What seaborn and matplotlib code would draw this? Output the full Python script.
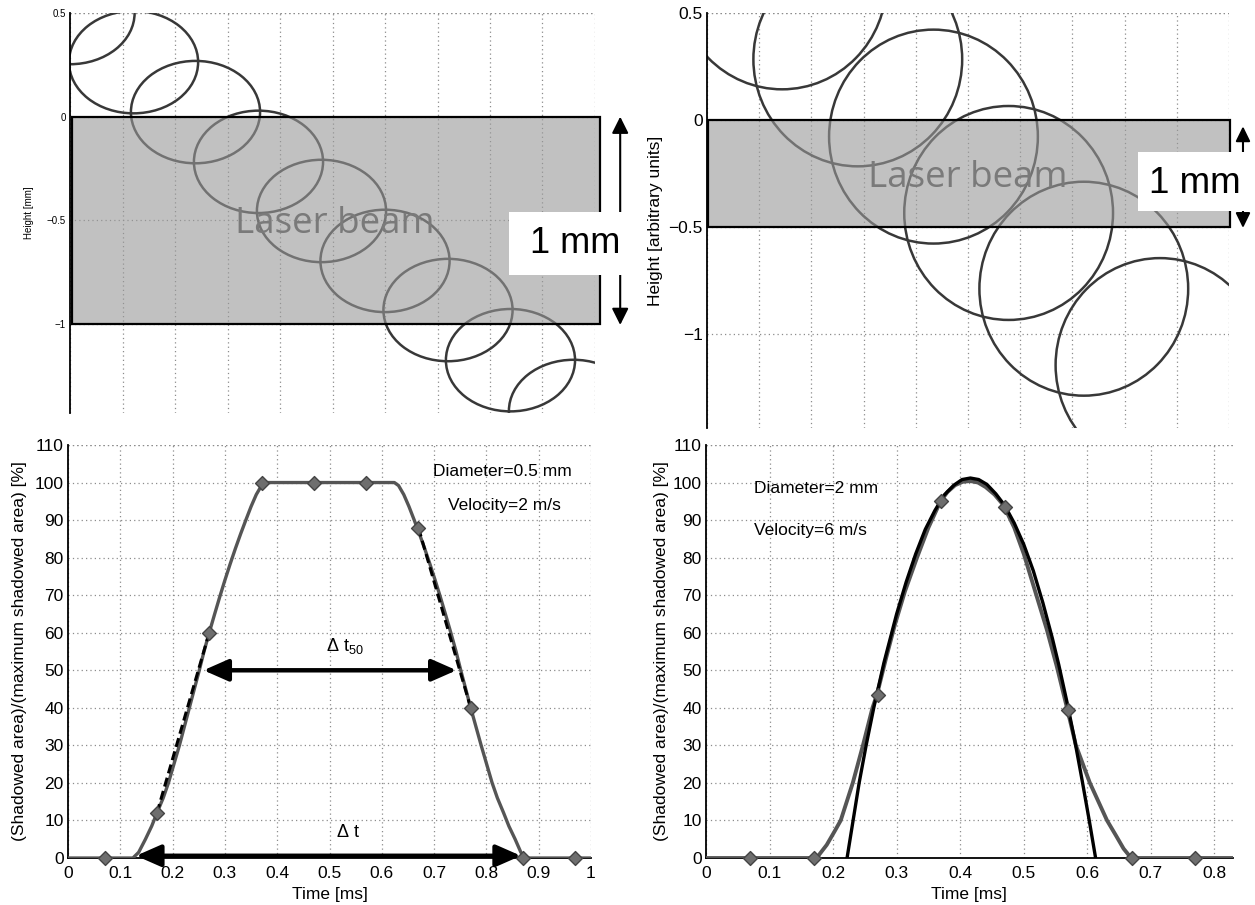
import numpy as np
import pandas as pd
import matplotlib
matplotlib.use("Agg")
import matplotlib.pyplot as plt
import seaborn as sns
from matplotlib.patches import Ellipse, Rectangle

# ---------------- data ----------------
# top-left: circle centres (time-like x, height [mm]); radii
tl_cx = [0.0, 0.121, 0.239, 0.359, 0.479, 0.600, 0.720, 0.839, 0.959]
tl_cy = [0.50, 0.263, 0.022, -0.218, -0.455, -0.696, -0.933, -1.175, -1.42]
tl_rx, tl_ry = 0.123, 0.247

# top-right: circle centres (arbitrary units); radii
tr_cx = [0.144, 0.289, 0.434, 0.578, 0.722, 0.868]
tr_cy = [0.643, 0.283, -0.078, -0.435, -0.789, -1.146]
tr_rx, tr_ry = 0.200, 0.500

# bottom-left: shadowed area curve (0.5 mm, 2 m/s)
bl_t = [0.0, 0.07, 0.124, 0.135, 0.148, 0.160, 0.170, 0.182, 0.192, 0.213, 0.232,
        0.251, 0.260, 0.270, 0.280, 0.290, 0.300, 0.310, 0.320, 0.330, 0.340,
        0.350, 0.360, 0.370, 0.378,
        0.47, 0.57, 0.624, 0.632, 0.642, 0.652, 0.662, 0.672, 0.682, 0.692,
        0.702, 0.712, 0.722, 0.732, 0.742, 0.751, 0.770, 0.790, 0.811, 0.821,
        0.833, 0.843, 0.855, 0.866, 0.876, 0.97, 1.0]
bl_y = [0, 0, 0, 1.5, 5, 8.5, 12, 16, 20, 30, 40,
        50, 55, 60, 64.8, 69.5, 74, 78.3, 82.4, 86.3, 90,
        93.6, 96.8, 99.2, 100,
        100, 100, 100, 99.2, 96.8, 93.6, 90, 86.3, 82.4, 78.3,
        74, 69.5, 64.8, 60, 55, 50, 40, 30, 20, 16,
        12, 8.5, 5, 1.5, 0, 0, 0]
bl_mark_t = [0.07, 0.17, 0.27, 0.37, 0.47, 0.57, 0.67, 0.77, 0.87, 0.97]
bl_mark_y = [0, 12, 60, 100, 100, 100, 88, 40, 0, 0]
bl_fit_left_t, bl_fit_left_y = [0.17, 0.27], [12, 60]
bl_fit_right_t, bl_fit_right_y = [0.67, 0.77], [88, 40]

# bottom-right: shadowed area curve (2 mm, 6 m/s) and its fit
br_t = [0.0, 0.174, 0.190, 0.202, 0.212, 0.231, 0.247, 0.262, 0.269, 0.283, 0.297,
        0.313, 0.332, 0.350, 0.369, 0.380, 0.392, 0.404, 0.416, 0.428, 0.440,
        0.454, 0.468, 0.485, 0.500, 0.518, 0.536, 0.552, 0.568, 0.582, 0.604,
        0.631, 0.645, 0.657, 0.669, 0.83]
br_y = [0, 0, 3.5, 7, 10, 20, 30, 40, 43.5, 53, 62,
        71, 80, 88, 95, 97.5, 99.3, 100.2, 100.4, 100, 98.8,
        96.8, 94, 88, 81, 71, 61, 51, 40, 30, 20,
        10, 6, 2.5, 0, 0]
br_fit_t = [0.222, 0.241, 0.252, 0.264, 0.280, 0.300, 0.315, 0.330, 0.345, 0.360,
            0.375, 0.390, 0.403, 0.416, 0.429, 0.442, 0.456, 0.470, 0.485, 0.500,
            0.515, 0.530, 0.545, 0.555, 0.568, 0.580, 0.592, 0.603, 0.613]
br_fit_y = [0, 20, 30, 40, 52, 65, 73.5, 81, 87.5, 92.5,
            96.7, 99.3, 100.8, 101.2, 100.8, 99.5, 97, 93.9, 89.2, 83.5,
            76.5, 68, 58.5, 51.5, 41.5, 31.5, 20.5, 10, 0]
br_mark_t = [0.07, 0.17, 0.27, 0.37, 0.47, 0.57, 0.67, 0.77]
br_mark_y = [0, 0, 43.5, 95, 93.5, 39.5, 0, 0]

tick_x_bl = [0, 0.1, 0.2, 0.3, 0.4, 0.5, 0.6, 0.7, 0.8, 0.9, 1]
tick_x_br = [0, 0.1, 0.2, 0.3, 0.4, 0.5, 0.6, 0.7, 0.8]
tick_y_bot = list(range(0, 111, 10))
tick_y_top = [-1, -0.5, 0, 0.5]

# ---------------- style ----------------
sns.set_theme(style="white")
plt.rcParams["font.family"] = ["Liberation Sans", "DejaVu Sans"]
plt.rcParams["axes.unicode_minus"] = True
plt.rcParams["mathtext.fontset"] = "custom"
plt.rcParams["mathtext.rm"] = "Liberation Sans"
plt.rcParams["mathtext.it"] = "Liberation Sans"
for key in ["text.color", "axes.labelcolor", "xtick.color", "ytick.color",
            "xtick.labelcolor", "ytick.labelcolor"]:
    plt.rcParams[key] = "black"

GRID = dict(color="#8c8c8c", lw=0.9, ls=(0, (1, 2.5)))
CURVE = "#555555"

fig = plt.figure(figsize=(12.55, 9.05), dpi=100)
ax_tl = fig.add_axes([0.0558, 0.5436, 0.4183, 0.4420])
ax_tr = fig.add_axes([0.5633, 0.5271, 0.4159, 0.4586])
ax_bl = fig.add_axes([0.0542, 0.0519, 0.4167, 0.4564])
ax_br = fig.add_axes([0.5625, 0.0519, 0.4199, 0.4564])


def style_axes(ax, xticks, yticks, xlim, ylim, fs, show_bottom=True):
    ax.set_xlim(*xlim)
    ax.set_ylim(*ylim)
    ax.set_xticks(xticks)
    ax.set_yticks(yticks)
    for s in ["top", "right"]:
        ax.spines[s].set_visible(False)
    ax.spines["left"].set_color("black")
    ax.spines["left"].set_linewidth(1.3)
    ax.spines["bottom"].set_visible(show_bottom)
    ax.spines["bottom"].set_color("black")
    ax.spines["bottom"].set_linewidth(1.3)
    ax.tick_params(axis="both", direction="in", length=4, width=1, color="black",
                   labelcolor="black", labelsize=fs)
    ax.tick_params(axis="y", pad=3)
    ax.tick_params(axis="x", pad=6)
    if not show_bottom:
        ax.tick_params(axis="x", length=0, labelbottom=False)
    for x in xticks:
        ax.axvline(x, zorder=0.5, **GRID)
    for y in yticks:
        ax.axhline(y, zorder=0.5, **GRID)
    ax.axhline(ylim[1], zorder=0.5, **GRID)
    ax.set_facecolor("white")


# ---------------- top-left ----------------
style_axes(ax_tl, [i / 10 for i in range(11)], tick_y_top, (0, 1), (-1.43, 0.5), 7,
           show_bottom=False)
ax_tl.set_yticklabels(["\u22121", "\u22120.5", "0", "0.5"])
ax_tl.set_ylabel("Height [mm]", fontsize=7, labelpad=9, color="black")
for cx, cy in zip(tl_cx, tl_cy):
    ax_tl.add_patch(Ellipse((cx, cy), 2 * tl_rx, 2 * tl_ry, fill=False,
                            ec="#383838", lw=1.8, zorder=2))
ax_tl.add_patch(Rectangle((0.004, -1.0), 1.006, 1.0, fc=(0.60, 0.60, 0.60, 0.60),
                          ec="black", lw=1.6, zorder=3, clip_on=False))
ax_tl.text(0.505, -0.52, "Laser beam", fontsize=26.5, color="#7a7a7a",
           family=["Open Sans", "DejaVu Sans"], ha="center", va="center", zorder=4)
ax_tl.annotate("", xy=(1.048, -1.005), xytext=(1.048, 0.0), xycoords="data",
               arrowprops=dict(arrowstyle="<|-|>,head_length=0.5,head_width=0.25",
                               mutation_scale=20, lw=1.5, color="black",
                               shrinkA=0, shrinkB=0),
               annotation_clip=False, zorder=5)
ax_tl.add_patch(Rectangle((0.836, -0.763), 0.24, 0.304, fc="white", ec="none",
                          zorder=6, clip_on=False))
ax_tl.text(0.962, -0.613, "1 mm", fontsize=26, color="black", ha="center",
           va="center", zorder=7, clip_on=False)

# ---------------- top-right ----------------
style_axes(ax_tr, [i / 10 for i in range(11)], tick_y_top, (0, 1), (-1.44, 0.5), 12.5,
           show_bottom=False)
ax_tr.set_yticklabels(["\u22121", "\u22120.5", "0", "0.5"])
ax_tr.set_ylabel("Height [arbitrary units]", fontsize=12.5, labelpad=4, color="black")
for cx, cy in zip(tr_cx, tr_cy):
    ax_tr.add_patch(Ellipse((cx, cy), 2 * tr_rx, 2 * tr_ry, fill=False,
                            ec="#383838", lw=1.8, zorder=2))
ax_tr.add_patch(Rectangle((0.002, -0.5), 1.0, 0.5, fc=(0.60, 0.60, 0.60, 0.60),
                          ec="black", lw=1.6, zorder=3, clip_on=False))
ax_tr.text(0.5, -0.27, "Laser beam", fontsize=26.5, color="#7a7a7a",
           family=["Open Sans", "DejaVu Sans"], ha="center", va="center", zorder=4)
ax_tr.annotate("", xy=(1.027, -0.505), xytext=(1.027, -0.03), xycoords="data",
               arrowprops=dict(arrowstyle="<|-|>,head_length=0.45,head_width=0.22",
                               mutation_scale=20, lw=1.5, color="black",
                               shrinkA=0, shrinkB=0),
               annotation_clip=False, zorder=5)
ax_tr.add_patch(Rectangle((0.826, -0.427), 0.3, 0.277, fc="white", ec="none",
                          zorder=6, clip_on=False))
ax_tr.text(0.935, -0.298, "1 mm", fontsize=26.5, color="black", ha="center",
           va="center", zorder=7, clip_on=False)

# ---------------- bottom-left ----------------
style_axes(ax_bl, tick_x_bl, tick_y_bot, (0, 1), (0, 110), 12.5)
ax_bl.set_xticklabels(["0", "0.1", "0.2", "0.3", "0.4", "0.5", "0.6", "0.7", "0.8", "0.9", "1"])
df_bl = pd.DataFrame({"t": bl_t, "y": bl_y})
sns.lineplot(data=df_bl, x="t", y="y", ax=ax_bl, color=CURVE, lw=2.4,
             estimator=None, sort=False, zorder=3)
sns.lineplot(x=bl_fit_left_t, y=bl_fit_left_y, ax=ax_bl, color="black", lw=2.2,
             ls=(0, (3, 1.5)), estimator=None, sort=False, zorder=4)
sns.lineplot(x=bl_fit_right_t, y=bl_fit_right_y, ax=ax_bl, color="black", lw=2.2,
             ls=(0, (3, 1.5)), estimator=None, sort=False, zorder=4)
sns.scatterplot(x=bl_mark_t, y=bl_mark_y, ax=ax_bl, marker="D", s=50,
                color="#6e6e6e", edgecolor="#444444", linewidth=1, zorder=5,
                clip_on=False)
arrow_big = dict(arrowstyle="<|-|>,head_length=0.75,head_width=0.33",
                 mutation_scale=20, lw=3.2, color="black", shrinkA=0, shrinkB=0)
ax_bl.annotate("", xy=(0.743, 50), xytext=(0.259, 50), arrowprops=arrow_big, zorder=6)
ax_bl.annotate("", xy=(0.866, 0.6), xytext=(0.13, 0.6), arrowprops=arrow_big,
               zorder=6, annotation_clip=False)
ax_bl.text(0.53, 56.5, r"$\Delta$ t$_{50}$", fontsize=13, ha="center", va="center")
ax_bl.text(0.535, 6.8, r"$\Delta$ t", fontsize=13, ha="center", va="center")
ax_bl.text(0.83, 103, "Diameter=0.5 mm", fontsize=12.5, ha="center", va="center")
ax_bl.text(0.835, 94, "Velocity=2 m/s", fontsize=12.5, ha="center", va="center")
ax_bl.set_xlabel("Time [ms]", fontsize=12.5, labelpad=4, color="black")
ax_bl.set_ylabel("(Shadowed area)/(maximum shadowed area) [%]", fontsize=12.5,
                 labelpad=6, color="black")

# ---------------- bottom-right ----------------
style_axes(ax_br, tick_x_br, tick_y_bot, (0, 0.829), (0, 110), 12.5)
ax_br.set_xticklabels(["0", "0.1", "0.2", "0.3", "0.4", "0.5", "0.6", "0.7", "0.8"])
df_br = pd.DataFrame({"t": br_t, "y": br_y})
sns.lineplot(data=df_br, x="t", y="y", ax=ax_br, color=CURVE, lw=2.8,
             estimator=None, sort=False, zorder=3)
df_fit = pd.DataFrame({"t": br_fit_t, "y": br_fit_y})
sns.lineplot(data=df_fit, x="t", y="y", ax=ax_br, color="black", lw=2.4,
             estimator=None, sort=False, zorder=4)
sns.scatterplot(x=br_mark_t, y=br_mark_y, ax=ax_br, marker="D", s=50,
                color="#6e6e6e", edgecolor="#444444", linewidth=1, zorder=5,
                clip_on=False)
ax_br.text(0.075, 98.4, "Diameter=2 mm", fontsize=12.5, ha="left", va="center")
ax_br.text(0.075, 87.2, "Velocity=6 m/s", fontsize=12.5, ha="left", va="center")
ax_br.set_xlabel("Time [ms]", fontsize=12.5, labelpad=4, color="black")
ax_br.set_ylabel("(Shadowed area)/(maximum shadowed area) [%]", fontsize=12.5,
                 labelpad=3, color="black")

for ax in (ax_bl, ax_br):
    if ax.get_legend() is not None:
        ax.get_legend().remove()

fig.savefig("out.png", dpi=100, facecolor="white")
